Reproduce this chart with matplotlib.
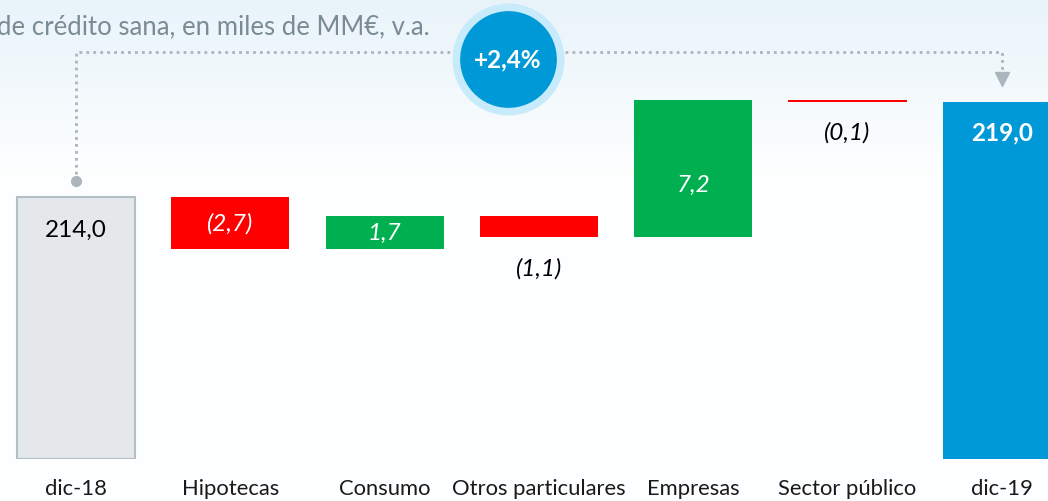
import numpy as np
import matplotlib.pyplot as plt

plt.rcParams['font.family'] = ['Lato', 'DejaVu Sans']

categories = ['dic-18', 'Hipotecas', 'Consumo', 'Otros particulares',
              'Empresas', 'Sector público', 'dic-19']
start_value = 214.0
changes = [-2.7, 1.7, -1.1, 7.2, -0.1]
end_value = 219.0
value_labels = ['214,0', '(2,7)', '1,7', '(1,1)', '7,2', '(0,1)', '219,0']
growth_label = '+2,4%'
title = 'de crédito sana, en miles de MM€, v.a.'

GREY = '#e4e8eb'
GREY_EDGE = '#b3bfc7'
RED = '#ff0000'
GREEN = '#00b050'
BLUE = '#0099d8'
LINE = '#aab5bd'

# waterfall geometry
cum = start_value + np.concatenate([[0], np.cumsum(changes)])
base = 200.23
bottoms = [base]
heights = [start_value - base]
colors = [GREY]
for i, c in enumerate(changes):
    bottoms.append(min(cum[i], cum[i + 1]))
    heights.append(abs(c))
    colors.append(GREEN if c > 0 else RED)
bottoms.append(base)
heights.append(end_value - base)
colors.append(BLUE)

fig = plt.figure(figsize=(10.48, 5.02), dpi=100)

# background gradient
bg = fig.add_axes([0, 0, 1, 1], zorder=-10)
grad = np.linspace(0, 1, 256).reshape(-1, 1)
top_c = np.array([0.91, 0.955, 0.98])
bot_c = np.array([0.995, 0.998, 1.0])
w = np.clip(grad / 0.35, 0, 1)
img = top_c * (1 - w)[..., None] + bot_c * w[..., None]
bg.imshow(img, aspect='auto', extent=[0, 1, 0, 1], origin='upper')
bg.axis('off')

ax = fig.add_axes([0, 42 / 502, 1, 1 - 42 / 502])
ax.patch.set_alpha(0)
x = np.arange(len(categories))
ax.bar(x, heights, bottom=bottoms, width=0.765, color=colors,
       edgecolor=[GREY_EDGE] + ['none'] * 6, linewidth=1.5)
ax.set_xlim(-0.4925, 6.2995)
ax.set_ylim(base, 224.44)
for s in ax.spines.values():
    s.set_visible(False)
ax.set_yticks([])
ax.set_xticks(x)
ax.set_xticklabels(categories, fontsize=15.8, color='#1a1a1a')
ax.tick_params(axis='x', length=0, pad=14)

# value labels
fs = 17.5
mid = [b + h / 2 for b, h in zip(bottoms, heights)]
ax.text(0, start_value - 1.7, value_labels[0], ha='center', va='center', fontsize=fs, color='black')
ax.text(1, mid[1], value_labels[1], ha='center', va='center', fontsize=fs, color='white', style='italic')
ax.text(2, mid[2], value_labels[2], ha='center', va='center', fontsize=fs, color='white', style='italic')
ax.text(3, cum[3] - 1.6, value_labels[3], ha='center', va='center', fontsize=fs, color='black', style='italic')
ax.text(4, cum[3] + 2.8, value_labels[4], ha='center', va='center', fontsize=fs, color='white', style='italic')
ax.text(5, cum[5] - 1.55, value_labels[5], ha='center', va='center', fontsize=fs, color='black', style='italic')
ax.text(6, end_value - 1.55, value_labels[6], ha='center', va='center', fontsize=fs, color='white', fontweight='bold')

# connector from dic-18 to dic-19
y_top = end_value + 2.65
y_dot = start_value + 0.86
ax.plot([0, 0, 6, 6], [y_dot, y_top, y_top, end_value + 1.6], color=LINE,
        linestyle=(0, (1, 1.5)), linewidth=2, zorder=1)
ax.plot(0, y_dot, 'o', color=LINE, markersize=7, zorder=2)
ax.plot(6, end_value + 1.25, 'v', color=LINE, markersize=10, zorder=2)

# growth bubble
ax.scatter([2.8], [y_top - 0.35], s=6500, color='#c8ebfc', zorder=3, linewidths=0)
ax.scatter([2.8], [y_top - 0.35], s=4850, color=BLUE, zorder=4, linewidths=0)
ax.text(2.8, y_top - 0.35, growth_label, ha='center', va='center', fontsize=17.5,
        color='white', fontweight='bold', zorder=5)

fig.text(430 / 1048, 1 - 27 / 502, title, ha='right', va='center', fontsize=18.5, color='#7b8b96')

fig.savefig('out.png', dpi=100)
